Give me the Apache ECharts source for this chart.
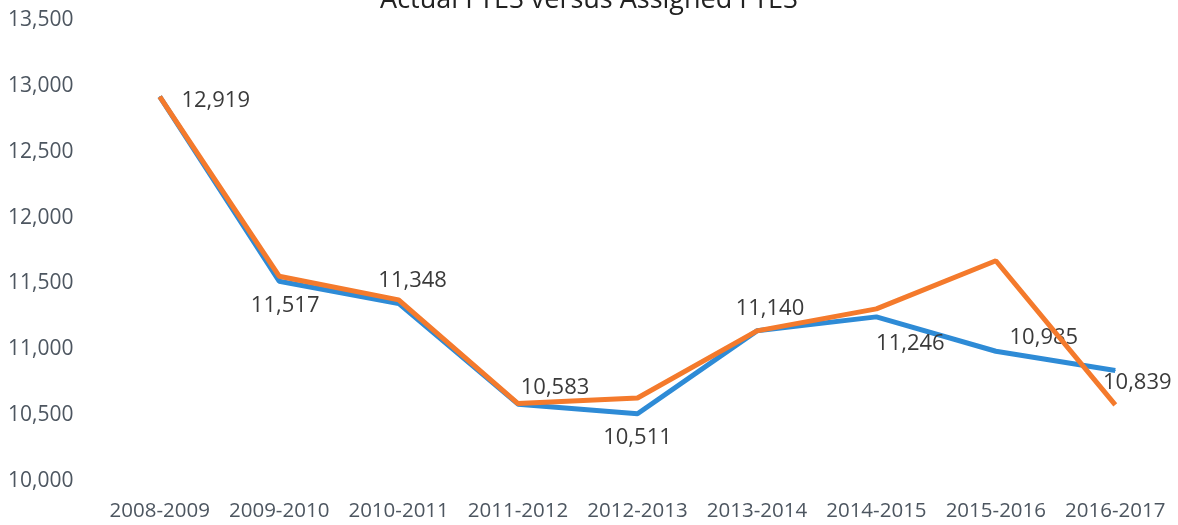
<!DOCTYPE html>
<html>
	<head>
		<meta charset="utf-8" />
		<title>Actual FTES versus Assigned FTES</title>
		<script type="text/javascript" src="https://cdn.jsdelivr.net/npm/echarts@6/dist/echarts.min.js"></script>
		<style>
			html, body { margin: 0; padding: 0; background: #fff; }
			#chart { width: 1178px; height: 525px; }
		</style>
	</head>
	<body>
		<div id="chart"></div>
		<script type="text/javascript">
			var years = ['2008-2009', '2009-2010', '2010-2011', '2011-2012', '2012-2013',
				'2013-2014', '2014-2015', '2015-2016', '2016-2017'];
			var actual = [12919, 11517, 11348, 10583, 10511, 11140, 11246, 10985, 10839];
			var assigned = [12919, 11555, 11375, 10588, 10630, 11140, 11307, 11672, 10578];

			// where each value label sits relative to its point (px)
			var labelOffsets = [[56, 4], [6, 25], [14, -23], [37, -16], [0, 24],
				[13, -22], [34, 27], [48, -14], [22, 12]];

			var myChart = echarts.init(document.getElementById('chart'));

			var actualData = actual.map(function (v, i) {
				return {
					value: v,
					label: { offset: labelOffsets[i] }
				};
			});

			var option = {
				animation: false,
				title: {
					text: 'Actual FTES versus Assigned FTES',
					left: 'center',
					top: -18,
					textStyle: { fontFamily: 'Open Sans', fontSize: 27, fontWeight: 'normal', color: '#222' }
				},
				grid: { left: 100, right: 3, top: 20, bottom: 44 },
				xAxis: {
					type: 'category',
					data: years,
					boundaryGap: true,
					axisLine: { show: false },
					axisTick: { show: false },
					axisLabel: { interval: 0, fontFamily: 'Open Sans', fontSize: 20.5, color: '#4d5660', margin: 20 }
				},
				yAxis: {
					type: 'value',
					min: 10000,
					max: 13500,
					interval: 500,
					splitLine: { show: false },
					axisLine: { show: false },
					axisTick: { show: false },
					axisLabel: {
						fontFamily: 'Open Sans', fontSize: 21, color: '#4d5660',
						align: 'left', margin: 92,
						formatter: function (v) { return v.toLocaleString('en-US'); }
					}
				},
				series: [
					{
						name: 'Actual',
						type: 'line',
						data: actualData,
						symbol: 'circle',
						symbolSize: 1,
						showSymbol: true,
						itemStyle: { color: '#2e8bd6' },
						lineStyle: { color: '#2e8bd6', width: 5 },
						label: {
							show: true,
							position: 'inside',
							fontFamily: 'Open Sans', fontSize: 22, color: '#3a3a3a',
							formatter: function (p) { return p.value.toLocaleString('en-US'); }
						},
						z: 2
					},
					{
						name: 'Assigned',
						type: 'line',
						data: assigned,
						symbol: 'none',
						lineStyle: { color: '#f47a2c', width: 5 },
						z: 3
					}
				]
			};
			myChart.setOption(option);
		</script>
	</body>
</html>
